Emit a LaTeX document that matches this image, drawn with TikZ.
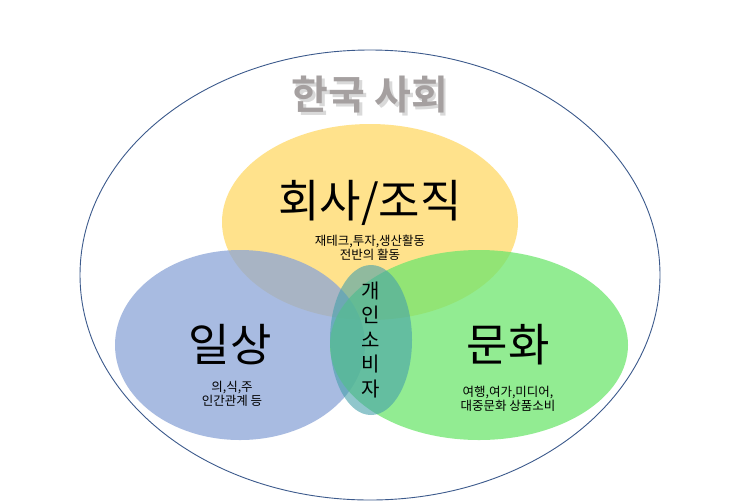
\documentclass[tikz,border=0pt]{standalone}
\usepackage{fontspec}
\newfontfamily\kr{Noto Sans CJK KR}[BoldFont={Noto Sans CJK KR Bold}]
\begin{document}
\begin{tikzpicture}[x=1pt,y=-1pt,font=\kr,
  circ/.style={fill opacity=0.75}]
\useasboundingbox (0,0) rectangle (743,501);
\draw[draw={rgb,255:red,60;green,90;blue,140},line width=0.9pt,fill=white] (370,275) ellipse [x radius=290,y radius=225];
\fill[circ,fill={rgb,255:red,255;green,217;blue,102}] (370,222) ellipse [x radius=148,y radius=98];
\fill[circ,fill={rgb,255:red,140;green,165;blue,215}] (240,345) ellipse [x radius=125,y radius=95];
\fill[circ,fill={rgb,255:red,110;green,230;blue,110}] (479,345) ellipse [x radius=149,y radius=95];
\fill[fill={rgb,255:red,70;green,160;blue,170},fill opacity=0.6] (371,340) ellipse [x radius=41,y radius=75];
\node[text=black!15,font=\kr\bfseries\fontsize{40}{44}\selectfont] (shadow) at (372.5,97.5) {한국 사회};
\node[text={rgb,255:red,165;green,160;blue,160},font=\kr\bfseries\fontsize{40}{44}\selectfont] (title) at (370,95) {한국 사회};
\node[font=\kr\fontsize{45}{48}\selectfont] (co) at (370,203) {회사/조직};
\node[font=\kr\fontsize{12.5}{14}\selectfont,align=center] (cot) at (370,248) {재테크,투자,생산활동\\전반의 활동};
\node[font=\kr\fontsize{45}{48}\selectfont] (il) at (230,345) {일상};
\node[font=\kr\fontsize{12.5}{14}\selectfont,align=center] (ilt) at (232,394) {의,식,주\\인간관계 등};
\node[font=\kr\fontsize{45}{48}\selectfont] (mu) at (508,345) {문화};
\node[font=\kr\fontsize{12.5}{14}\selectfont,align=center] (mut) at (508,399) {여행,여가,미디어,\\대중문화 상품소비};
\node[font=\kr\fontsize{20}{24.5}\selectfont,align=center] (ind) at (371,340) {개\\인\\소\\비\\자};
\end{tikzpicture}
\end{document}
